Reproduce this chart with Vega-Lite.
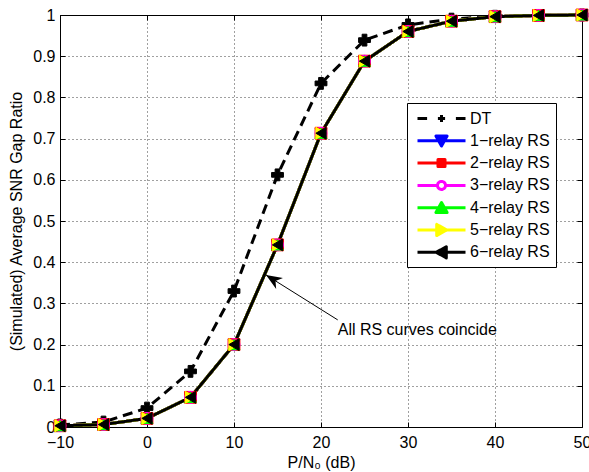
{
  "$schema": "https://vega.github.io/schema/vega-lite/v6.json",
  "width": 522,
  "height": 412,
  "autosize": {"type": "none"},
  "padding": {"left": 60, "top": 15, "right": 7, "bottom": 45},
  "background": "white",
  "config": {
    "view": {"stroke": "black", "strokeWidth": 1},
    "font": "Liberation Sans",
    "axis": {
      "labelFont": "Liberation Sans", "labelFontSize": 16, "labelColor": "black",
      "titleFont": "Liberation Sans", "titleFontSize": 16, "titleFontWeight": "normal", "titleColor": "black",
      "domain": false, "tickColor": "black", "tickSize": -5, "tickWidth": 1,
      "gridColor": "black", "gridDash": [1, 3], "gridOpacity": 0.75,
      "labelFlush": false, "labelOverlap": false, "labelBound": false
    }
  },
  "resolve": {"axis": {"x": "independent", "y": "independent"}},
  "datasets": {
    "curves": [
      {"s": "DT", "x": -10, "y": 0.005}, {"s": "DT", "x": -5, "y": 0.012}, {"s": "DT", "x": 0, "y": 0.046}, {"s": "DT", "x": 5, "y": 0.135}, {"s": "DT", "x": 10, "y": 0.33}, {"s": "DT", "x": 15, "y": 0.612}, {"s": "DT", "x": 20, "y": 0.834}, {"s": "DT", "x": 25, "y": 0.939}, {"s": "DT", "x": 30, "y": 0.976}, {"s": "DT", "x": 35, "y": 0.99}, {"s": "DT", "x": 40, "y": 0.997}, {"s": "DT", "x": 45, "y": 0.999}, {"s": "DT", "x": 50, "y": 1.0},
      {"s": "1-relay RS", "x": -10, "y": 0.003}, {"s": "1-relay RS", "x": -5, "y": 0.006}, {"s": "1-relay RS", "x": 0, "y": 0.021}, {"s": "1-relay RS", "x": 5, "y": 0.072}, {"s": "1-relay RS", "x": 10, "y": 0.2}, {"s": "1-relay RS", "x": 15, "y": 0.442}, {"s": "1-relay RS", "x": 20, "y": 0.713}, {"s": "1-relay RS", "x": 25, "y": 0.888}, {"s": "1-relay RS", "x": 30, "y": 0.96}, {"s": "1-relay RS", "x": 35, "y": 0.985}, {"s": "1-relay RS", "x": 40, "y": 0.996}, {"s": "1-relay RS", "x": 45, "y": 0.999}, {"s": "1-relay RS", "x": 50, "y": 1.0},
      {"s": "2-relay RS", "x": -10, "y": 0.003}, {"s": "2-relay RS", "x": -5, "y": 0.006}, {"s": "2-relay RS", "x": 0, "y": 0.021}, {"s": "2-relay RS", "x": 5, "y": 0.072}, {"s": "2-relay RS", "x": 10, "y": 0.2}, {"s": "2-relay RS", "x": 15, "y": 0.442}, {"s": "2-relay RS", "x": 20, "y": 0.713}, {"s": "2-relay RS", "x": 25, "y": 0.888}, {"s": "2-relay RS", "x": 30, "y": 0.96}, {"s": "2-relay RS", "x": 35, "y": 0.985}, {"s": "2-relay RS", "x": 40, "y": 0.996}, {"s": "2-relay RS", "x": 45, "y": 0.999}, {"s": "2-relay RS", "x": 50, "y": 1.0},
      {"s": "3-relay RS", "x": -10, "y": 0.003}, {"s": "3-relay RS", "x": -5, "y": 0.006}, {"s": "3-relay RS", "x": 0, "y": 0.021}, {"s": "3-relay RS", "x": 5, "y": 0.072}, {"s": "3-relay RS", "x": 10, "y": 0.2}, {"s": "3-relay RS", "x": 15, "y": 0.442}, {"s": "3-relay RS", "x": 20, "y": 0.713}, {"s": "3-relay RS", "x": 25, "y": 0.888}, {"s": "3-relay RS", "x": 30, "y": 0.96}, {"s": "3-relay RS", "x": 35, "y": 0.985}, {"s": "3-relay RS", "x": 40, "y": 0.996}, {"s": "3-relay RS", "x": 45, "y": 0.999}, {"s": "3-relay RS", "x": 50, "y": 1.0},
      {"s": "4-relay RS", "x": -10, "y": 0.003}, {"s": "4-relay RS", "x": -5, "y": 0.006}, {"s": "4-relay RS", "x": 0, "y": 0.021}, {"s": "4-relay RS", "x": 5, "y": 0.072}, {"s": "4-relay RS", "x": 10, "y": 0.2}, {"s": "4-relay RS", "x": 15, "y": 0.442}, {"s": "4-relay RS", "x": 20, "y": 0.713}, {"s": "4-relay RS", "x": 25, "y": 0.888}, {"s": "4-relay RS", "x": 30, "y": 0.96}, {"s": "4-relay RS", "x": 35, "y": 0.985}, {"s": "4-relay RS", "x": 40, "y": 0.996}, {"s": "4-relay RS", "x": 45, "y": 0.999}, {"s": "4-relay RS", "x": 50, "y": 1.0},
      {"s": "5-relay RS", "x": -10, "y": 0.003}, {"s": "5-relay RS", "x": -5, "y": 0.006}, {"s": "5-relay RS", "x": 0, "y": 0.021}, {"s": "5-relay RS", "x": 5, "y": 0.072}, {"s": "5-relay RS", "x": 10, "y": 0.2}, {"s": "5-relay RS", "x": 15, "y": 0.442}, {"s": "5-relay RS", "x": 20, "y": 0.713}, {"s": "5-relay RS", "x": 25, "y": 0.888}, {"s": "5-relay RS", "x": 30, "y": 0.96}, {"s": "5-relay RS", "x": 35, "y": 0.985}, {"s": "5-relay RS", "x": 40, "y": 0.996}, {"s": "5-relay RS", "x": 45, "y": 0.999}, {"s": "5-relay RS", "x": 50, "y": 1.0},
      {"s": "6-relay RS", "x": -10, "y": 0.003}, {"s": "6-relay RS", "x": -5, "y": 0.006}, {"s": "6-relay RS", "x": 0, "y": 0.021}, {"s": "6-relay RS", "x": 5, "y": 0.072}, {"s": "6-relay RS", "x": 10, "y": 0.2}, {"s": "6-relay RS", "x": 15, "y": 0.442}, {"s": "6-relay RS", "x": 20, "y": 0.713}, {"s": "6-relay RS", "x": 25, "y": 0.888}, {"s": "6-relay RS", "x": 30, "y": 0.96}, {"s": "6-relay RS", "x": 35, "y": 0.985}, {"s": "6-relay RS", "x": 40, "y": 0.996}, {"s": "6-relay RS", "x": 45, "y": 0.999}, {"s": "6-relay RS", "x": 50, "y": 1.0}
    ],
    "arrow": [{"x": 21.92, "y": 0.26, "x2": 13.68, "y2": 0.369}],
    "note": [{"x": 21.92, "y": 0.224, "label": "All RS curves coincide"}]
  },
  "layer": [
    {
      "data": {"name": "curves"},
      "mark": {"type": "line", "strokeWidth": 3},
      "encoding": {
        "x": {"field": "x", "type": "quantitative", "scale": {"domain": [-10, 50], "nice": false},
              "axis": {"values": [-10, 0, 10, 20, 30, 40, 50], "title": "P/N₀ (dB)", "labelPadding": 12, "titlePadding": 4, "grid": true}},
        "y": {"field": "y", "type": "quantitative", "scale": {"domain": [0, 1], "nice": false},
              "axis": {"values": [0, 0.1, 0.2, 0.3, 0.4, 0.5, 0.6, 0.7, 0.8, 0.9, 1], "format": ".1~f", "title": "(Simulated) Average SNR Gap Ratio", "labelPadding": 10, "titlePadding": 8, "grid": true}},
        "color": {
          "field": "s", "type": "nominal",
          "scale": {"domain": ["DT", "1-relay RS", "2-relay RS", "3-relay RS", "4-relay RS", "5-relay RS", "6-relay RS"],
                    "range": ["black", "#0000ff", "#ff0000", "#ff00ff", "#00ff00", "#ffff00", "black"]},
          "legend": {
            "orient": "none", "legendX": 347, "legendY": 88, "title": null,
            "strokeColor": "black", "fillColor": "white", "padding": 6,
            "labelFont": "Liberation Sans", "labelFontSize": 16, "labelColor": "black",
            "symbolSize": 256, "symbolOffset": 19, "labelOffset": 19, "rowPadding": 4.3,
            "gridAlign": "all",
            "symbolStrokeWidth": 3,
            "labelExpr": "replace(datum.label, '-', '−')",
            "encode": {
              "symbols": {
                "update": {
                  "shape": {"signal": "datum.value === 'DT' ? 'M-3,0H-1.8M1.8,0H3M-0.45,0H0.45M0,-0.45V0.45' : datum.value === '1-relay RS' ? 'M-3,0H3M-0.7,-0.6L0.7,-0.6L0,0.65Z' : datum.value === '2-relay RS' ? 'M-3,0H3M-0.44,-0.44H0.44V0.44H-0.44Z' : datum.value === '3-relay RS' ? 'M-3,0H-0.5M0.5,0H3M0.5,0A0.5,0.5 0 1,1 -0.5,0A0.5,0.5 0 1,1 0.5,0Z' : datum.value === '4-relay RS' ? 'M-3,0H3M-0.7,0.6L0.7,0.6L0,-0.65Z' : datum.value === '5-relay RS' ? 'M-3,0H3M-0.6,-0.7L-0.6,0.7L0.65,0Z' : 'M-3,0H3M0.6,-0.7L0.6,0.7L-0.65,0Z'"},
                  "fill": {"signal": "datum.value === 'DT' ? 'black' : datum.value === '1-relay RS' ? '#0000ff' : datum.value === '2-relay RS' ? '#ff0000' : datum.value === '3-relay RS' ? 'transparent' : datum.value === '4-relay RS' ? '#00ff00' : datum.value === '5-relay RS' ? '#ffff00' : 'black'"},
                  "stroke": {"signal": "datum.value === 'DT' ? 'black' : datum.value === '1-relay RS' ? '#0000ff' : datum.value === '2-relay RS' ? '#ff0000' : datum.value === '3-relay RS' ? '#ff00ff' : datum.value === '4-relay RS' ? '#00ff00' : datum.value === '5-relay RS' ? '#ffff00' : 'black'"},
                  "strokeDash": {"value": [1, 0]},
                  "strokeWidth": {"value": 3},
                  "strokeJoin": {"value": "round"},
                  "opacity": {"value": 1},
                  "size": {"value": 256}
                }
              }
            }
          }
        },
        "strokeDash": {
          "field": "s", "type": "nominal",
          "scale": {"domain": ["DT", "1-relay RS", "2-relay RS", "3-relay RS", "4-relay RS", "5-relay RS", "6-relay RS"],
                    "range": [[10, 6], [1, 0], [1, 0], [1, 0], [1, 0], [1, 0], [1, 0]]},
          "legend": null
        }
      }
    },
    {
      "data": {"name": "curves"},
      "mark": {"type": "point", "strokeWidth": 1, "opacity": 1},
      "encoding": {
        "x": {"field": "x", "type": "quantitative", "axis": null},
        "y": {"field": "y", "type": "quantitative", "axis": null},
        "shape": {"field": "s", "type": "nominal",
                  "scale": {"domain": ["6-relay RS", "5-relay RS", "4-relay RS", "3-relay RS", "2-relay RS", "1-relay RS", "DT"],
                            "range": ["triangle-left", "triangle-right", "triangle-up", "circle", "square", "triangle-down", "cross"]},
                  "legend": null},
        "size": {"field": "s", "type": "nominal",
                 "scale": {"domain": ["6-relay RS", "5-relay RS", "4-relay RS", "3-relay RS", "2-relay RS", "1-relay RS", "DT"],
                           "range": [140, 140, 140, 100, 100, 140, 50]},
                 "legend": null},
        "fill": {"field": "s", "type": "nominal",
                 "scale": {"domain": ["6-relay RS", "5-relay RS", "4-relay RS", "3-relay RS", "2-relay RS", "1-relay RS", "DT"],
                           "range": ["black", "#ffff00", "#00ff00", "transparent", "#ff0000", "#0000ff", "black"]},
                 "legend": null},
        "stroke": {"field": "s", "type": "nominal",
                   "scale": {"domain": ["6-relay RS", "5-relay RS", "4-relay RS", "3-relay RS", "2-relay RS", "1-relay RS", "DT"],
                             "range": ["black", "#ffff00", "#00ff00", "#ff00ff", "#ff0000", "#0000ff", "black"]},
                   "legend": null}
      }
    },
    {
      "data": {"name": "arrow"},
      "mark": {"type": "rule", "color": "black", "strokeWidth": 1},
      "encoding": {
        "x": {"field": "x", "type": "quantitative", "axis": {"orient": "top", "values": [-10, 0, 10, 20, 30, 40, 50], "labels": false, "title": null, "grid": false}},
        "y": {"field": "y", "type": "quantitative", "axis": {"orient": "right", "values": [0, 0.1, 0.2, 0.3, 0.4, 0.5, 0.6, 0.7, 0.8, 0.9, 1], "labels": false, "title": null, "grid": false}},
        "x2": {"field": "x2"},
        "y2": {"field": "y2"}
      }
    },
    {
      "data": {"name": "arrow"},
      "mark": {"type": "point", "shape": "M0,0L-1,-0.4L-0.7,0L-1,0.4Z", "size": 1024, "angle": 212.1, "filled": true, "color": "black", "opacity": 1},
      "encoding": {
        "x": {"field": "x2", "type": "quantitative", "axis": null},
        "y": {"field": "y2", "type": "quantitative", "axis": null}
      }
    },
    {
      "data": {"name": "note"},
      "mark": {"type": "text", "align": "left", "baseline": "alphabetic", "font": "Liberation Sans", "fontSize": 16, "color": "black"},
      "encoding": {
        "x": {"field": "x", "type": "quantitative", "axis": null},
        "y": {"field": "y", "type": "quantitative", "axis": null},
        "text": {"field": "label"}
      }
    }
  ]
}
